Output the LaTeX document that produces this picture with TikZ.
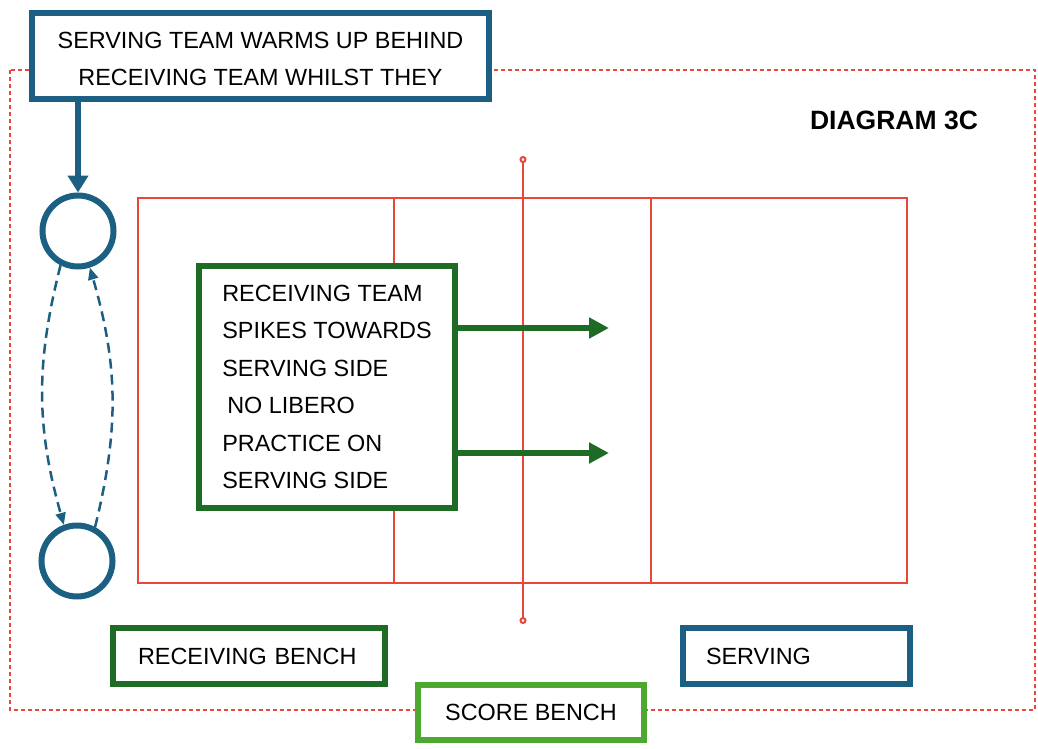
\documentclass[tikz,border=0pt]{standalone}
\usepackage{fontspec}
\setmainfont{Liberation Sans}
\usetikzlibrary{arrows.meta}
\definecolor{teamblue}{HTML}{1B5F82}
\definecolor{teamgreen}{HTML}{1E6B25}
\definecolor{benchgreen}{HTML}{4EA72E}
\definecolor{courtred}{HTML}{E8483B}
\tikzset{
 box/.style={line width=6pt, fill=white, inner sep=0pt, font=\fontsize{23.4}{37.4}\selectfont},
 bluebox/.style={box, draw=teamblue},
 greenbox/.style={box, draw=teamgreen},
 player/.style={circle, draw=teamblue, line width=6pt, minimum size=71pt, inner sep=0pt},
 court/.style={draw=courtred, line width=2.5pt},
 rotation/.style={draw=teamblue, line width=2.5pt, dash pattern=on 10pt off 6pt, -{Triangle[length=12pt,width=10pt]}},
 spike/.style={draw=teamgreen, line width=6pt, -{Triangle[length=20pt,width=20pt]}}
}

\begin{document}
\begin{tikzpicture}[x=1pt,y=-1pt]
\useasboundingbox (0,0) rectangle (1038,749);
%area and court
\draw[courtred, line width=2pt, dash pattern=on 4pt off 3pt] (10,70) rectangle (1035,710);
\draw[court] (138,198) rectangle (907,583);
\foreach \x in {394,651}
\draw[court] (\x,198) -- (\x,583);
\draw[courtred, line width=2pt, {Circle[open,length=7pt]}-{Circle[open,length=7pt]}] (523,156) -- (523,624);

\node[font=\bfseries\fontsize{26.5}{30}\selectfont] (title) at (894,120) {DIAGRAM 3C};

\node[bluebox, minimum width=457pt, minimum height=86pt, align=center] (warmup) at (260.5,56) {\rule{0pt}{22pt}SERVING TEAM WARMS UP BEHIND\\RECEIVING TEAM WHILST THEY};
\node[player] (pA) at (78,231) {};
\node[player] (pB) at (77,561) {};
\draw[teamblue, line width=6pt, -{Triangle[length=17pt,width=20pt]}] (pA.north |- warmup.south) -- (pA.north);
\draw[rotation] (pA.243) to[bend right=15] (pB.110);
\draw[rotation] (pB.62) to[bend right=15] (pA.288);

\node[greenbox, minimum width=256pt, minimum height=242pt, align=left] (spikes) at (327,387)
{RECEIVING TEAM\\SPIKES TOWARDS\\SERVING SIDE\\\hspace*{5pt}NO LIBERO\\PRACTICE ON\\SERVING SIDE};
\coordinate (hitA) at (609,328);
\coordinate (hitB) at (609,453);
\draw[spike] (spikes.east |- hitA) -- (hitA);
\draw[spike] (spikes.east |- hitB) -- (hitB);

%benches
\node[greenbox, minimum width=272pt, minimum height=56pt, text width=222pt, inner xsep=25pt, align=left] (recbench) at (249,656) {RECEIVING BENCH};
\node[bluebox, minimum width=227pt, minimum height=56pt, text width=181pt, inner xsep=23pt, align=left] (servbench) at (796.5,656) {SERVING};
\node[box, draw=benchgreen, minimum width=226pt, minimum height=55pt] (score) at (531,712.5) {SCORE BENCH};
\end{tikzpicture}
\end{document}
